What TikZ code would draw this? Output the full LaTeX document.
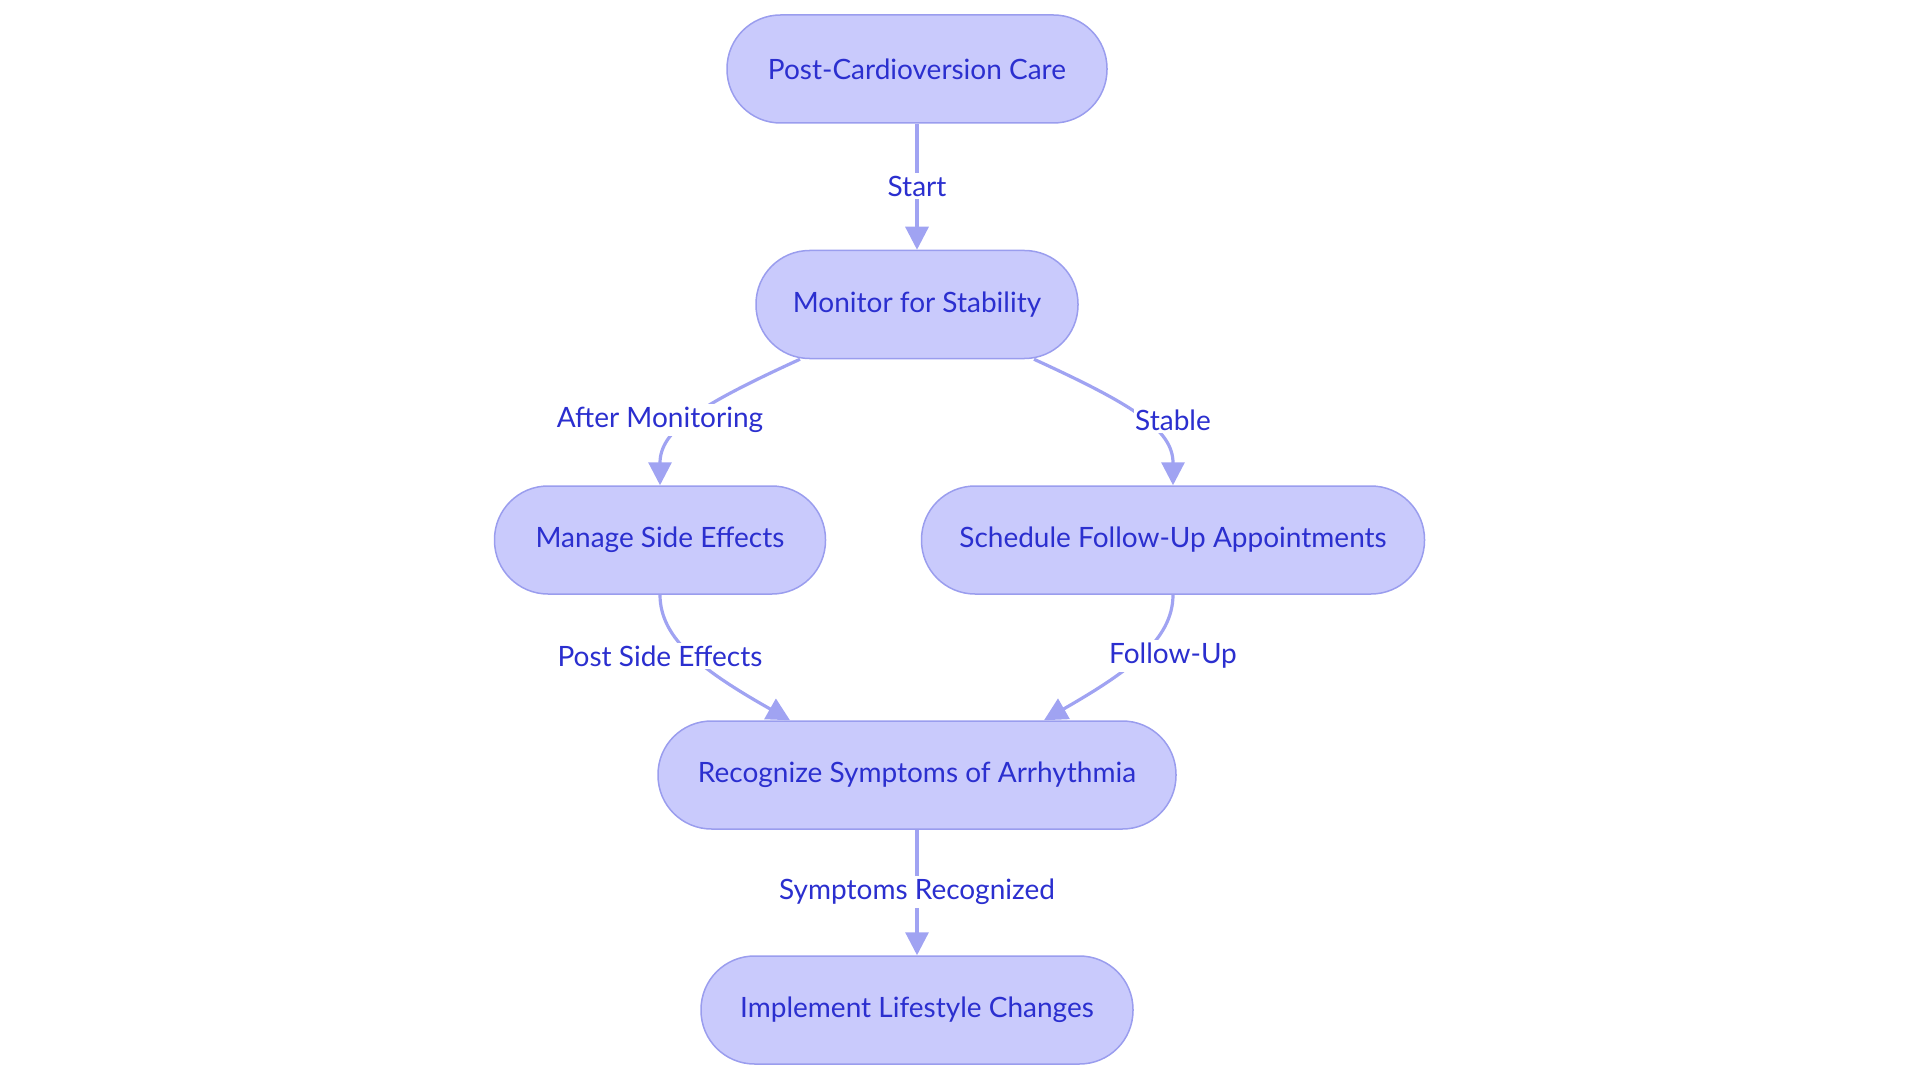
\documentclass[tikz,border=0pt]{standalone}
\usepackage{fontspec}
\setmainfont{Lato}
\usetikzlibrary{arrows.meta}
\definecolor{nfill}{HTML}{C9CAFC}
\definecolor{nline}{HTML}{9A9DEE}
\definecolor{ntext}{HTML}{2B2FCF}
\definecolor{eline}{HTML}{A0A3F2}
\begin{document}
\begin{tikzpicture}[x=1pt,y=-1pt,
  box/.style={draw=nline, line width=1.5pt, fill=nfill, rounded corners=53.5pt,
    minimum height=108pt, text=ntext, font=\fontsize{28}{32}\selectfont, inner sep=0pt},
  edge/.style={draw=eline, line width=3.2pt, -{Triangle[length=23pt,width=23pt]}},
  elabel/.style={fill=white, text=ntext, font=\fontsize{28}{32}\selectfont,
    inner xsep=1pt, inner ysep=3pt}]
\useasboundingbox (0,0) rectangle (1920,1083);
% nodes
\node[box, minimum width=380pt] (top) at (917,69) {Post-Cardioversion Care};
\node[box, minimum width=322pt] (mon) at (917,304.5) {Monitor for Stability};
\node[box, minimum width=331pt] (man) at (660,540) {Manage Side Effects};
\node[box, minimum width=503pt] (sch) at (1173,540) {Schedule Follow-Up Appointments};
\node[box, minimum width=518pt] (rec) at (917,775) {Recognize Symptoms of Arrhythmia};
\node[box, minimum width=432pt] (imp) at (917,1010) {Implement Lifestyle Changes};
% label positions
\coordinate (l1) at (917,186);
\coordinate (l2) at (660,420);
\coordinate (l3) at (1173,420);
\coordinate (l4) at (660,656);
\coordinate (l5) at (1173,656);
\coordinate (l6) at (917,892);
% edges
\draw[edge] (top.south) -- (mon.north);
\draw[edge] ([xshift=-117pt]mon.south) .. controls (700,405) and (660,430) .. (man.north);
\draw[edge] ([xshift=117pt]mon.south) .. controls (1134,405) and (1173,430) .. (sch.north);
\draw[edge] (man.south) .. controls (660,640) and (705,672) .. ([xshift=-127pt]rec.north);
\draw[edge] (sch.south) .. controls (1173,640) and (1128,672) .. ([xshift=127pt]rec.north);
\draw[edge] (rec.south) -- (imp.north);
% labels
\node[elabel] (t1) at (l1) {Start};
\node[elabel] (t2) at (l2) {After Monitoring};
\node[elabel] (t3) at (l3) {Stable};
\node[elabel] (t4) at (l4) {Post Side Effects};
\node[elabel] (t5) at (l5) {Follow-Up};
\node[elabel] (t6) at (l6) {Symptoms Recognized};
\end{tikzpicture}
\end{document}
